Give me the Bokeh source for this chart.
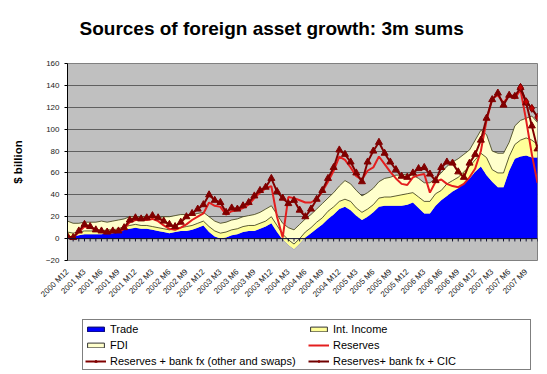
import math
from bokeh.plotting import figure
from bokeh.layouts import column
from bokeh.models import ColumnDataSource, FixedTicker, Legend, LegendItem, Span, Range1d
from bokeh.transform import stack
from bokeh.embed import file_html
from bokeh.resources import INLINE

NaN = float("nan")

# x tick labels (every third month, 2000 M12 .. 2007 M9); data run monthly 2000 M12 .. 2007 M11
tick_labels = ["2000 M12", "2001 M3", "2001 M6", "2001 M9", "2001 M12", "2002 M3", "2002 M6",
               "2002 M9", "2002 M12", "2003 M3", "2003 M6", "2003 M9", "2003 M12", "2004 M3",
               "2004 M6", "2004 M9", "2004 M12", "2005 M3", "2005 M6", "2005 M9", "2005 M12",
               "2006 M3", "2006 M6", "2006 M9", "2006 M12", "2007 M3", "2007 M6", "2007 M9"]

trade = [2, 2, 3, 4, 4, 4, 4, 5, 5, 6, 8, 9, 10, 9, 9, 8, 7, 6, 5, 6, 7, 7, 8, 10, 12, 6, 2, 0,
         1, 3, 4, 6, 7, 7, 9, 11, 14, 6, -1, -6, -10, -5, 1, 5, 9, 13, 18, 22, 27, 29, 26, 21,
         17, 20, 24, 29, 30, 30, 30, 30, 31, 33, 28, 23, 23, 30, 35, 39, 43, 46, 51, 55, 61, 66,
         58, 52, 47, 47, 62, 73, 75, 76, 74, 74]
income = [4, 3, 3, 3, 3, 3, 3, 3, 3, 3, 3, 3, 3, 3, 3, 3, 3, 3, 3, 3, 3, 4, 4, 4, 4, 5, 5, 5,
          5, 5, 5, 5, 5, 5, 5, 5, 6, 6, 5, 5, 5, 5, 5, 5, 6, 6, 7, 7, 7, 7, 8, 7, 7, 7, 7, 8,
          8, 8, 9, 10, 10, 9, 10, 11, 11, 11, 9, 11, 10, 10, 10, 11, 11, 12, 16, 11, 13, 13, 13,
          13, 15, 16, 16, 12]
fdi = [10, 9, 8, 8, 8, 8, 9, 7, 8, 8, 7, 8, 7, 8, 8, 8, 9, 11, 12, 12, 12, 11, 10, 9, 8, 9, 9,
       9, 9, 9, 9, 9, 9, 10, 10, 11, 10, 10, 10, 11, 13, 13, 12, 12, 12, 13, 12, 13, 14, 17, 16,
       16, 15, 15, 15, 15, 17, 18, 19, 18, 18, 16, 17, 17, 17, 14, 16, 16, 17, 17, 16, 15, 18,
       21, 21, 17, 18, 18, 13, 17, 18, 18, 22, 20]
reserves = [1, 1, 6, 11, 10, 8, 6, 5, 6, 6, 9, 15, 17, 17, 17, 18, 16, 12, 9, 8, 10, 13, 17, 20,
            23, 33, 30, 29, 22, 25, 26, 28, 31, 37, 42, 46, 48, 20, 1, 38, 37, 35, 33, 33, 36, 43,
            52, 62, 75, 72, 65, 57, 54, 62, 65, 75, 68, 61, 55, 50, 49, 56, 58, 59, 42, 52, 54,
            50, 48, 47, 50, 56, 64, 80, 108, 128, 131, 124, 131, 128, 136, 108, 77, 51]
reserves_bank = [2, 1, 7, 13, 11, 8, 7, 6, 7, 7, 10, 17, 19, 18, 19, 21, 19, 16, 13, 11, 15, 20,
                 23, 27, 31, 40, 35, 33, 24, 28, 27, 30, 33, 39, 44, 47, 55, 43, 37, 32, 35, 26,
                 20, 27, 36, 44, 55, 65, 81, 77, 70, 60, 52, 70, 80, 88, 78, 70, 63, 57, 56, 60,
                 64, 65, 59, 53, 65, 70, 69, 61, 56, 69, 77, 90, 110, 127, 133, 122, 131, 130,
                 138, 124, 103, 82]
reserves_cic = [NaN] * 80 + [138, 125, 119, 111]

n = len(trade)
src = ColumnDataSource(dict(idx=list(range(n)), trade=trade, income=income, fdi=fdi,
                            reserves=reserves, res_bank=reserves_bank, res_cic=reserves_cic))

FONT = "Liberation Sans"
C_TRADE, C_INC, C_FDI = "#0000FF", "#FFFF99", "#FFFFCC"
C_RES, C_BANK, C_CIC = "#E41E1E", "#800000", "#700000"

# ---- title strip ----
t = figure(width=545, height=45, output_backend="svg", toolbar_location=None,
           x_range=Range1d(0, 1), y_range=Range1d(0, 1), x_axis_type=None, y_axis_type=None,
           min_border_left=67, min_border_right=8, min_border_top=40, min_border_bottom=0)
t.outline_line_color = None
t.grid.visible = False
t.title.text = "Sources of foreign asset growth: 3m sums"
t.title.text_font = FONT
t.title.text_font_size = "19px"
t.title.text_font_style = "bold"
t.title.text_color = "black"
t.title.align = "left"
t.title.offset = 12
t.title.standoff = 4

# ---- main chart ----
p = figure(width=545, height=260, output_backend="svg", toolbar_location=None,
           x_range=Range1d(0, n - 1), y_range=Range1d(-20, 160),
           min_border_left=67, min_border_right=8, min_border_top=18, min_border_bottom=36)
p.background_fill_color = "#C0C0C0"
p.border_fill_color = "white"
p.outline_line_color = "#808080"

# stacked areas
p.varea_stack(["trade", "income", "fdi"], x="idx", source=src,
              fill_color=[C_TRADE, C_INC, C_FDI])
p.line(x="idx", y=stack("trade", "income"), source=src, line_color="#3a3a10", line_width=0.8)
p.line(x="idx", y=stack("trade", "income", "fdi"), source=src, line_color="#3a3a10", line_width=0.8)

# category axis at zero with monthly tick marks
p.add_layout(Span(location=0, dimension="width", line_color="#101030", line_width=1))
p.segment(x0="idx", y0=0, x1="idx", y1=-2.6, source=src, line_color="#101030", line_width=1)

p.line("idx", "reserves", source=src, line_color=C_RES, line_width=2)
p.line("idx", "res_bank", source=src, line_color=C_BANK, line_width=2)
p.scatter("idx", "res_bank", source=src, marker="triangle", size=7,
          fill_color=C_BANK, line_color=C_BANK)
p.line("idx", "res_cic", source=src, line_color=C_CIC, line_width=2)
p.scatter("idx", "res_cic", source=src, marker="diamond", size=8,
          fill_color="#C00000", line_color=C_BANK)

# axes
p.yaxis.ticker = FixedTicker(ticks=list(range(-20, 161, 20)))
p.yaxis.axis_label = "$ billion"
p.yaxis.axis_label_text_font = FONT
p.yaxis.axis_label_text_font_style = "bold"
p.yaxis.axis_label_text_font_size = "11.5px"
p.yaxis.axis_label_text_color = "black"
p.yaxis.axis_label_standoff = 19
p.yaxis.major_label_text_font = FONT
p.yaxis.major_label_text_font_size = "8px"
p.yaxis.major_label_text_color = "#222222"
p.yaxis.major_tick_out = 3
p.yaxis.major_tick_in = 0
p.yaxis.minor_tick_line_color = None
p.yaxis.axis_line_color = "black"
p.yaxis.major_tick_line_color = "black"

p.xaxis.ticker = FixedTicker(ticks=list(range(0, n, 3)))
p.xaxis.major_label_overrides = {i: lab for i, lab in zip(range(0, n, 3), tick_labels)}
p.xaxis.major_label_orientation = math.pi / 4
p.xaxis.major_label_text_font = FONT
p.xaxis.major_label_text_font_size = "8px"
p.xaxis.major_label_text_color = "#222222"
p.xaxis.major_label_standoff = 4
p.xaxis.axis_line_color = None
p.xaxis.major_tick_line_color = None
p.xaxis.minor_tick_line_color = None

p.ygrid.grid_line_color = "#606060"
p.ygrid.grid_line_width = 1
p.xgrid.visible = False

# ---- legend strip (its renderers use the same data but sit off-range) ----
q = figure(width=545, height=67, output_backend="svg", toolbar_location=None,
           x_range=Range1d(-20, -10), y_range=Range1d(-2000, -1000),
           x_axis_type=None, y_axis_type=None, min_border=0)
q.outline_line_color = None
q.grid.visible = False
g_trade = q.quad(left="idx", right="idx", top="trade", bottom="trade", source=src,
                 fill_color=C_TRADE, line_color="#000060")
g_inc = q.quad(left="idx", right="idx", top="income", bottom="income", source=src,
               fill_color=C_INC, line_color="#333333")
g_fdi = q.quad(left="idx", right="idx", top="fdi", bottom="fdi", source=src,
               fill_color=C_FDI, line_color="#333333")
g_res = q.line("idx", "reserves", source=src, line_color=C_RES, line_width=2)
g_bank_l = q.line("idx", "res_bank", source=src, line_color=C_BANK, line_width=2)
g_bank_m = q.scatter("idx", "res_bank", source=src, marker="triangle", size=7,
                     fill_color=C_BANK, line_color=C_BANK)
g_cic_l = q.line("idx", "res_cic", source=src, line_color=C_CIC, line_width=2)
g_cic_m = q.scatter("idx", "res_cic", source=src, marker="diamond", size=8,
                    fill_color="#C00000", line_color=C_BANK)

legend = Legend(items=[
    LegendItem(label="Trade", renderers=[g_trade]),
    LegendItem(label="Int. Income", renderers=[g_inc]),
    LegendItem(label="FDI", renderers=[g_fdi]),
    LegendItem(label="Reserves", renderers=[g_res]),
    LegendItem(label="Reserves + bank fx (other and swaps)", renderers=[g_bank_l, g_bank_m]),
    LegendItem(label="Reserves+ bank fx + CIC", renderers=[g_cic_l, g_cic_m]),
], location=(15, 2), orientation="horizontal", ncols=2)
legend.label_text_font = FONT
legend.label_text_font_size = "11px"
legend.label_text_color = "black"
legend.label_height = 13
legend.label_width = 195
legend.label_standoff = 4
legend.glyph_width = 21
legend.glyph_height = 6
legend.spacing = 3
legend.padding = 2
legend.margin = 0
legend.border_line_color = "black"
legend.border_line_width = 1
legend.background_fill_color = "white"
legend.background_fill_alpha = 1
q.add_layout(legend)

layout = column(t, p, q, spacing=0)
open("out.html", "w").write(file_html(layout, INLINE))
